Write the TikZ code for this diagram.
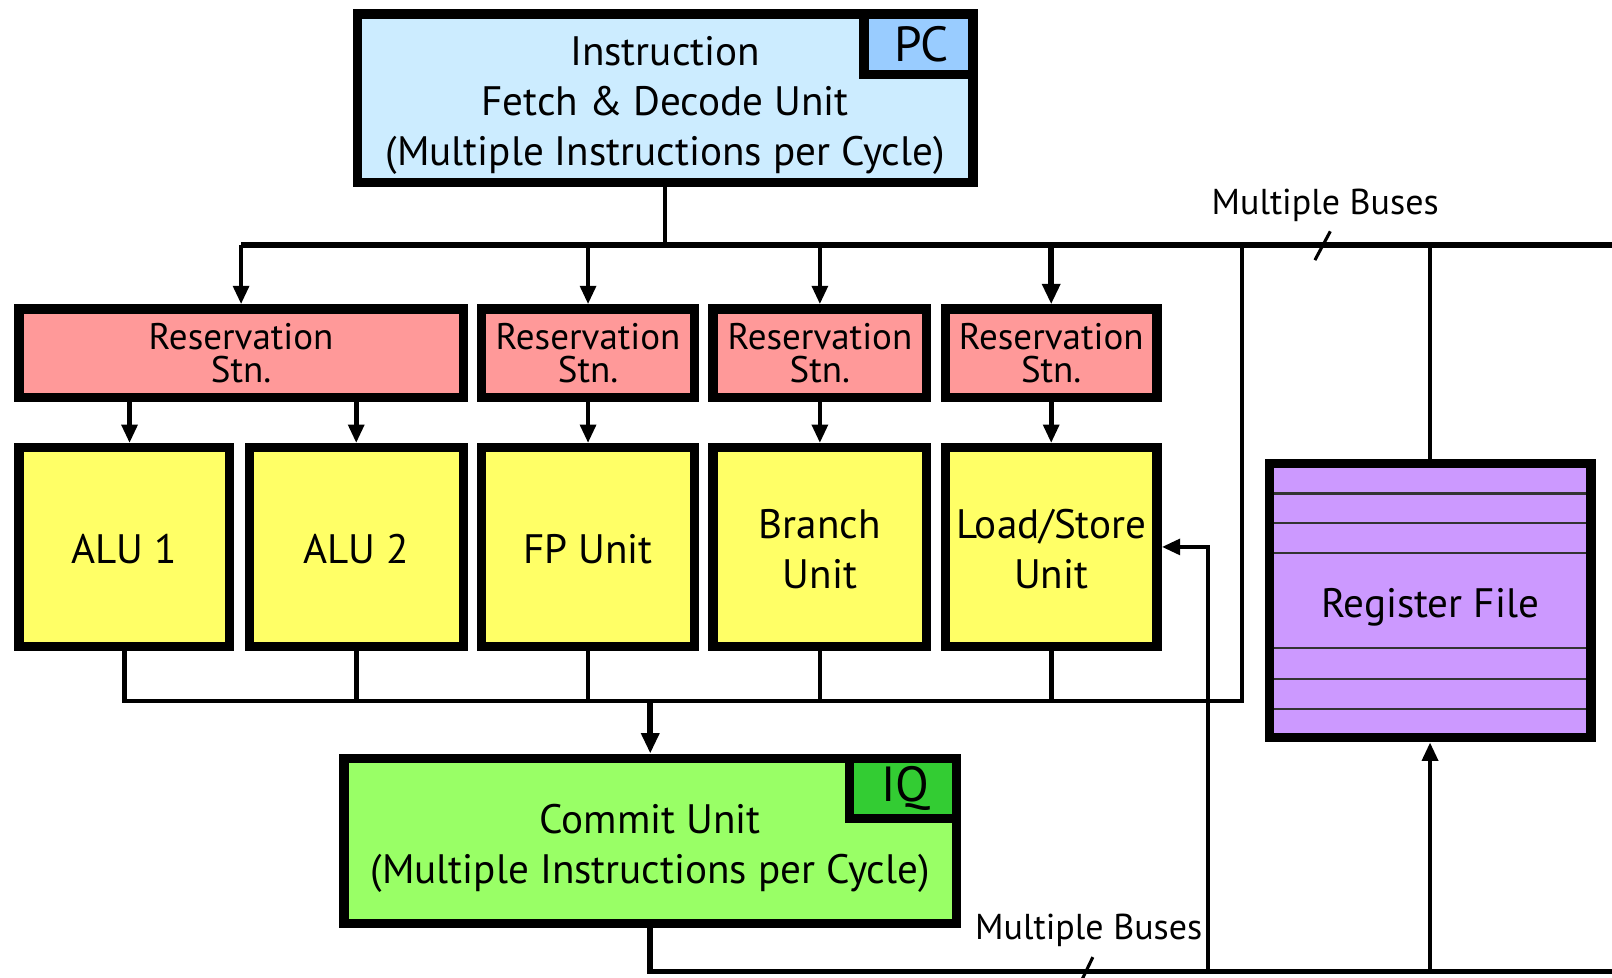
\documentclass[tikz,border=0pt]{standalone}
\usepackage{fontspec}
\setmainfont{PT Sans}
\usetikzlibrary{arrows.meta}

\definecolor{fetchblue}{RGB}{204,236,255}
\definecolor{pcblue}{RGB}{153,204,255}
\definecolor{rspink}{RGB}{255,153,153}
\definecolor{unityellow}{RGB}{255,255,102}
\definecolor{commitgreen}{RGB}{153,255,102}
\definecolor{iqgreen}{RGB}{51,204,51}
\definecolor{rfpurple}{RGB}{204,153,255}

% strut that lowers a centred text block
\newcommand{\firstline}[1]{\rule{0pt}{#1}}

\begin{document}
\begin{tikzpicture}[x=1pt,y=-1pt,
  box/.style={draw=black, line width=9pt, inner sep=0pt, align=center, text=black},
  bigbox/.style={box, font=\fontsize{40}{48.5}\selectfont},
  tagbox/.style={box, font=\fontsize{48}{50}\selectfont},
  rsbox/.style={box, fill=rspink, minimum height=86pt, font=\fontsize{36}{32}\selectfont},
  unitbox/.style={box, fill=unityellow, minimum height=193pt, font=\fontsize{40}{49}\selectfont},
  wire/.style={line width=4.5pt, line join=miter, line cap=butt},
  buswire/.style={line width=5.5pt, line join=miter},
  thickwire/.style={line width=6pt, line join=miter},
  arr/.style={wire, -{Triangle[length=18pt,width=15pt]}},
  thickarr/.style={thickwire, -{Triangle[length=20pt,width=17pt]}},
  buslabel/.style={font=\fontsize{35}{38}\selectfont, text=black, inner sep=0pt},
  regline/.style={line width=2pt, draw=black!80}
]
\useasboundingbox (0,0) rectangle (1568,951);

% Fetch & decode unit with its program counter
\node[bigbox, fill=fetchblue, minimum width=599pt, minimum height=164pt] (fetch) at (647,95.5)
  {\firstline{42.5pt}Instruction\\Fetch \& Decode Unit\\(Multiple Instructions per Cycle)};
\node[tagbox, fill=pcblue, minimum width=106pt, minimum height=59pt] (pc) at (893.5,43) {\hspace*{6pt}PC};

% Reservation stations
\node[rsbox, minimum width=432pt] (rs1) at (234.5,343.5) {Reservation\\Stn.};
\node[rsbox, minimum width=207pt] (rs2) at (572,343.5) {Reservation\\Stn.};
\node[rsbox, minimum width=208pt] (rs3) at (797.5,343.5) {Reservation\\Stn.};
\node[rsbox, minimum width=206pt] (rs4) at (1022.5,343.5) {Reservation\\Stn.};

% Functional units
\node[unitbox, minimum width=205pt] (alu1) at (121,532) {\firstline{33pt}ALU 1};
\node[unitbox, minimum width=208pt] (alu2) at (346.5,532) {\firstline{33pt}ALU 2};
\node[unitbox, minimum width=207pt] (fp) at (572,532) {\firstline{33pt}FP Unit};
\node[unitbox, minimum width=208pt] (br) at (797.5,532) {\firstline{33pt}Branch\\Unit};
\node[unitbox, minimum width=206pt] (ls) at (1022.5,532) {\firstline{33pt}Load/Store\\Unit};

% Commit unit with its instruction queue
\node[bigbox, fill=commitgreen, minimum width=596pt, minimum height=161pt] (commit) at (632.5,818)
  {\firstline{43pt}Commit Unit\\(Multiple Instructions per Cycle)};
\node[tagbox, fill=iqgreen, minimum width=104pt, minimum height=59pt] (iq) at (878.5,767) {\hspace*{4pt}IQ};

% Register file
\node[bigbox, fill=rfpurple, minimum width=313pt, minimum height=267pt] (rf) at (1391,584) {\firstline{42pt}Register File};
\foreach \yy in {480,509,538,630,660,690}
  \draw[regline] (1239,\yy) -- (1543,\yy);

% Bus junction points
\coordinate (busL) at (234.5,238);
\coordinate (busR) at (1568,238);
\coordinate (resL) at (121,682);
\coordinate (resR) at (1208,682);
\coordinate (cmtR) at (1568,945);
\coordinate (fbk) at (1175,945);

% Issue bus from fetch unit to the reservation stations
\draw[wire] (fetch.south) -- (fetch.south |- busL);
\draw[buswire] (busL) -- (busR);
\draw[arr] (busL) -- (rs1.north);
\draw[arr] (rs2.north |- busL) -- (rs2.north);
\draw[arr] (rs3.north |- busL) -- (rs3.north);
\draw[thickarr] (rs4.north |- busL) -- (rs4.north);

% Reservation stations to units
\draw[arr] (126,391) -- (126,431);
\draw[arr] (alu2.north |- rs1.south) -- (alu2.north);
\draw[arr] (rs2.south) -- (fp.north);
\draw[arr] (rs3.south) -- (br.north);
\draw[arr] (rs4.south) -- (ls.north);

% Result bus from the units
\draw[wire] (alu1.south) |- (resR) -- (resR |- busL);
\draw[wire] (alu2.south) -- (alu2.south |- resL);
\draw[wire] (fp.south) -- (fp.south |- resL);
\draw[wire] (br.south) -- (br.south |- resL);
\draw[wire] (ls.south) -- (ls.south |- resL);
\draw[thickarr] (commit.north |- resL) -- (commit.north);

% Commit bus to the register file and the load/store unit
\draw[buswire] (commit.south) |- (cmtR);
\draw[arr] (fbk) |- (ls.east);
\draw[arr] (rf.south |- cmtR) -- (rf.south);
\draw[wire] (rf.north) -- (rf.north |- busL);

% Bus labels with their width ticks
\node[buslabel] (mb1) at (1289,200) {Multiple Buses};
\draw[line width=3pt] (1279,253) -- (1294,225);
\node[buslabel] (mb2) at (1059,905) {Multiple Buses};
\draw[line width=3pt] (1050,958) -- (1063,931);
\end{tikzpicture}
\end{document}
